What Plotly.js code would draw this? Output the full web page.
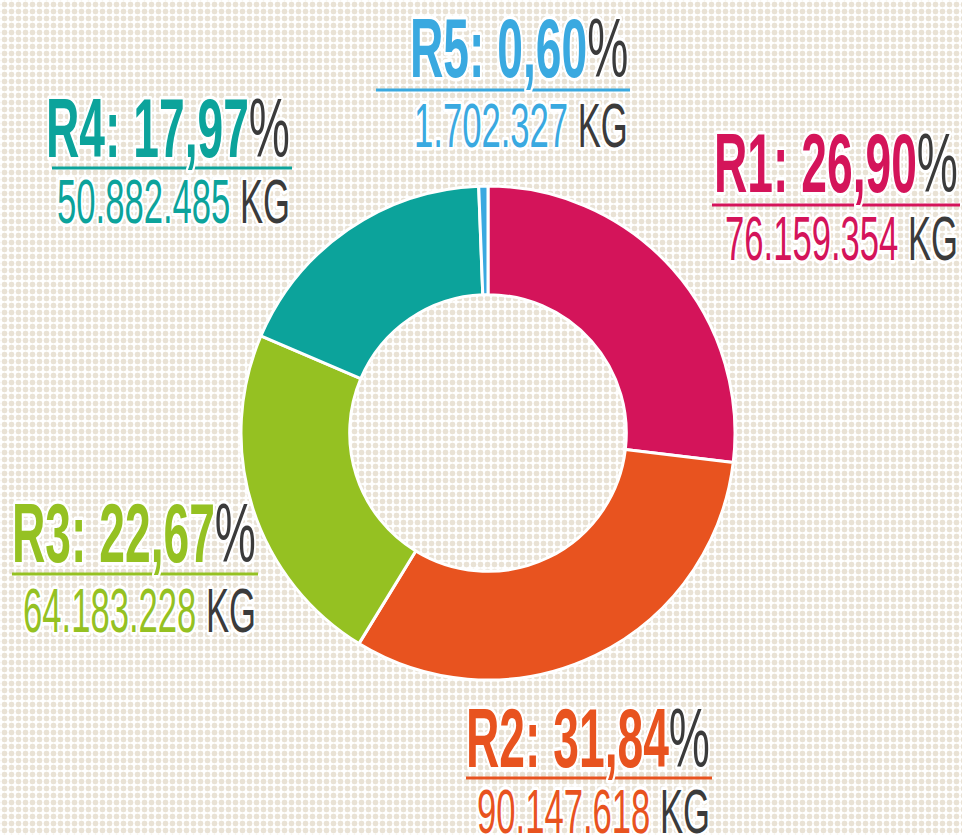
<!DOCTYPE html>
<html>
<head>
<meta charset="utf-8">
<script src="https://cdn.plot.ly/plotly-3.0.1.min.js"></script>
<style>
html,body{margin:0;padding:0;width:962px;height:835px;overflow:hidden;background-color:#ffffff;
background-image:radial-gradient(circle at center,#e9e2d5 2.6px,rgba(233,226,213,0) 3.2px);
background-size:7px 7px;background-position:1px 1px;}
#chart{width:962px;height:835px;}
.annotation-text{paint-order:stroke;stroke:#ffffff;stroke-width:7px;stroke-linejoin:round;
transform-box:fill-box;transform-origin:100% 50%;transform:scaleX(0.55);}
</style>
</head>
<body>
<div id="chart"></div>
<script>
// ---- data ----
const regions = ['R1', 'R2', 'R3', 'R4', 'R5'];
const kg = [76159354, 90147618, 64183228, 50882485, 1702327];
const pct = [26.90, 31.84, 22.67, 17.97, 0.60];
const colors = ['#d4145a', '#e8531f', '#95c122', '#0ca39b', '#3aa9e0'];

// ---- label layout (pixels) ----
const W = 962, H = 835;
const labelRight = [960, 712, 258, 292, 630];
const capTop = [130, 705, 500, 95, 15];
const ruleY = [205, 778, 574, 168, 90];
const ruleLeft = [712, 466, 12, 52, 376];
const bottomCapTop = [213, 786, 585, 176, 100];
const dark = '#3b3b3b';
const topSize = 84, botSize = 63;
const fontFam = '"Liberation Sans", Arial, sans-serif';

function fmtKg(v) { return String(v).replace(/\B(?=(\d{3})+(?!\d))/g, '.'); }
function fmtPct(v) { return v.toFixed(2).replace('.', ','); }

const annotations = [];
const shapes = [];
regions.forEach((r, i) => {
  annotations.push({
    xref: 'paper', yref: 'paper', xanchor: 'right', yanchor: 'top', showarrow: false,
    x: labelRight[i] / W,
    y: 1 - (capTop[i] - 0.176 * topSize - 1) / H,
    text: r + ': ' + fmtPct(pct[i]) + '<span style="color:' + dark + ';font-weight:normal">%</span>',
    font: { family: fontFam, size: topSize, color: colors[i], weight: 'bold' }
  });
  annotations.push({
    xref: 'paper', yref: 'paper', xanchor: 'right', yanchor: 'top', showarrow: false,
    x: labelRight[i] / W,
    y: 1 - (bottomCapTop[i] - 0.176 * botSize - 1) / H,
    text: fmtKg(kg[i]) + ' <span style="color:' + dark + '">KG</span>',
    font: { family: fontFam, size: botSize, color: colors[i], weight: 'normal' }
  });
  shapes.push({
    type: 'line', xref: 'paper', yref: 'paper',
    x0: ruleLeft[i] / W, x1: labelRight[i] / W,
    y0: 1 - ruleY[i] / H, y1: 1 - ruleY[i] / H,
    line: { color: colors[i], width: 3 }
  });
});

const cx = 488, cy = 433, R = 247;
const trace = {
  type: 'pie',
  labels: regions,
  values: kg,
  hole: 0.56,
  sort: false,
  direction: 'clockwise',
  rotation: 0,
  textinfo: 'none',
  hoverinfo: 'skip',
  marker: { colors: colors, line: { color: '#ffffff', width: 3 } },
  domain: { x: [(cx - R) / W, (cx + R) / W], y: [(H - cy - R) / H, (H - cy + R) / H] }
};

const layout = {
  width: W, height: H,
  margin: { l: 0, r: 0, t: 0, b: 0 },
  paper_bgcolor: 'rgba(0,0,0,0)',
  plot_bgcolor: 'rgba(0,0,0,0)',
  showlegend: false,
  annotations: annotations,
  shapes: shapes
};

Plotly.newPlot('chart', [trace], layout, { staticPlot: true });
</script>
</body>
</html>
